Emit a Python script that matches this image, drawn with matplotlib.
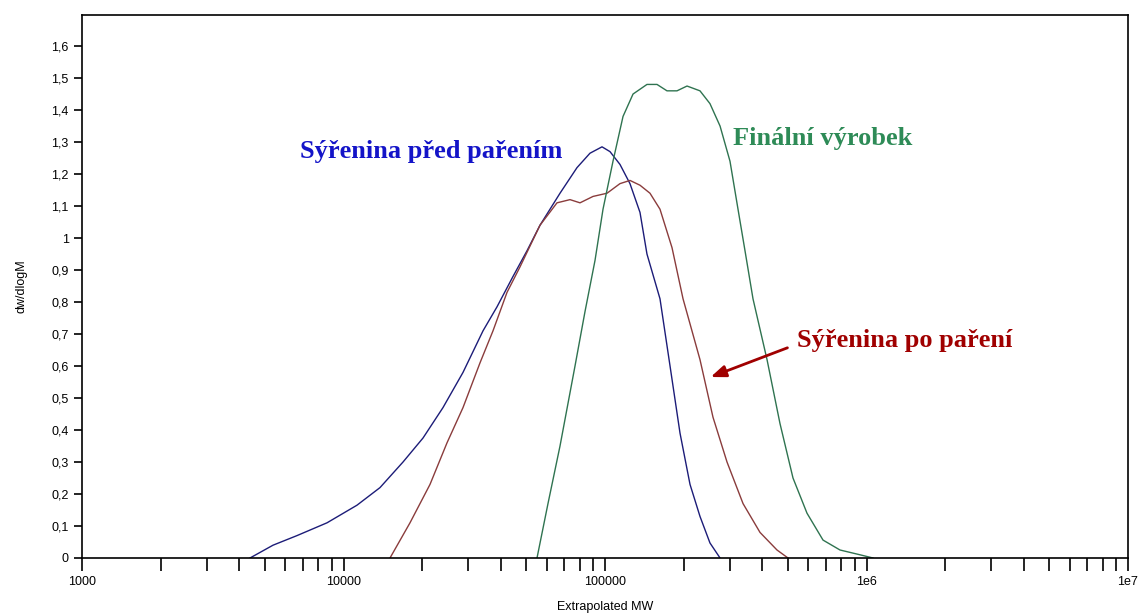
import numpy as np
import matplotlib
matplotlib.use("Agg")
from matplotlib import pyplot as plt
from matplotlib.ticker import LogLocator, FixedLocator, NullFormatter

# Sýřenina před pařením (blue)
mw_pred = [4390, 5375, 6640, 8650, 11260, 13790, 16890, 20140, 24010, 28640,
           34160, 38640, 44490, 50310, 56420, 67290, 78150, 87600, 97400,
           104500, 114100, 124600, 136100, 144700, 162300, 177300, 193600,
           211400, 230800, 252000, 275400]
dw_pred = [0, 0.04, 0.07, 0.11, 0.165, 0.22, 0.30, 0.375, 0.47, 0.58,
           0.71, 0.785, 0.88, 0.96, 1.04, 1.14, 1.22, 1.265, 1.285,
           1.27, 1.23, 1.17, 1.08, 0.95, 0.81, 0.60, 0.39,
           0.23, 0.13, 0.047, 0]

# Sýřenina po paření (red)
mw_po = [15060, 17960, 21420, 24880, 28640, 33270, 37300, 42190, 47320,
         56420, 65530, 73480, 80250, 89990, 101800, 114100, 124600, 136100,
         148600, 162300, 180400, 198800, 230800, 258800, 292800, 337200,
         391500, 454700, 501000]
dw_po = [0, 0.11, 0.23, 0.36, 0.47, 0.61, 0.71, 0.83, 0.91,
         1.04, 1.11, 1.12, 1.11, 1.13, 1.14, 1.17, 1.18, 1.165,
         1.14, 1.09, 0.97, 0.81, 0.62, 0.44, 0.30, 0.17,
         0.08, 0.025, 0]

# Finální výrobek (green)
mw_fin = [54950, 60530, 67290, 76790, 83850, 91580, 98260, 107300, 117200,
          128000, 144700, 158100, 172600, 188500, 205900, 230800, 252000,
          275400, 300600, 322600, 343100, 368100, 416500, 466900, 523500,
          592200, 681900, 791900, 944800, 1059000]
dw_fin = [0, 0.17, 0.35, 0.60, 0.77, 0.93, 1.09, 1.24, 1.38,
          1.45, 1.48, 1.48, 1.46, 1.46, 1.475, 1.46, 1.42,
          1.35, 1.24, 1.09, 0.96, 0.81, 0.62, 0.42, 0.25,
          0.14, 0.056, 0.025, 0.01, 0]

y_ticks = [i / 10 for i in range(17)]
y_labels = ["0", "0,1", "0,2", "0,3", "0,4", "0,5", "0,6", "0,7", "0,8", "0,9",
            "1", "1,1", "1,2", "1,3", "1,4", "1,5", "1,6"]
x_ticks = [1000, 10000, 100000, 1000000, 10000000]
x_labels = ["1000", "10000", "100000", "1e6", "1e7"]

plt.rcParams["font.family"] = ["Liberation Sans", "DejaVu Sans"]

fig = plt.figure(figsize=(11.42, 6.14), dpi=100)
ax = fig.add_axes([82 / 1142, 1 - 558 / 614, (1128 - 82) / 1142, (558 - 15) / 614])

ax.plot(mw_pred, dw_pred, color="#1c1c78", lw=1.0)
ax.plot(mw_po, dw_po, color="#8a3c3c", lw=1.0)
ax.plot(mw_fin, dw_fin, color="#2f7350", lw=1.0)

ax.set_xscale("log")
ax.set_xlim(1000, 1e7)
ax.set_ylim(0, 1.697)

ax.xaxis.set_major_locator(FixedLocator(x_ticks))
ax.set_xticklabels(x_labels)
ax.xaxis.set_minor_locator(LogLocator(base=10, subs=np.arange(2, 10)))
ax.xaxis.set_minor_formatter(NullFormatter())
ax.set_yticks(y_ticks)
ax.set_yticklabels(y_labels)

ax.tick_params(axis="x", which="both", direction="out", length=9, width=1.2,
               labelsize=9, pad=4)
ax.tick_params(axis="y", direction="out", length=6, width=1.2, labelsize=9)
for s in ax.spines.values():
    s.set_linewidth(1.2)

ax.set_xlabel("Extrapolated MW", fontsize=9, labelpad=9)
ax.set_ylabel("dw/dlogM", fontsize=9, labelpad=17)

serif = ["Liberation Serif", "DejaVu Serif"]
ax.text(6820, 1.27, "Sýřenina před pařením", color="#1414c8", fontsize=19,
        fontweight="bold", family=serif, va="center", ha="left")
ax.text(308800, 1.31, "Finální výrobek", color="#2e8b57", fontsize=19,
        fontweight="bold", family=serif, va="center", ha="left")
ax.text(542000, 0.68, "Sýřenina po paření", color="#a00000", fontsize=19,
        fontweight="bold", family=serif, va="center", ha="left")
ax.annotate("", xy=(247700, 0.5625), xytext=(510000, 0.66),
            arrowprops=dict(arrowstyle="-|>,head_length=0.9,head_width=0.35",
                            color="#a00000", lw=2))

plt.savefig("out.png", dpi=100)
plt.close()
